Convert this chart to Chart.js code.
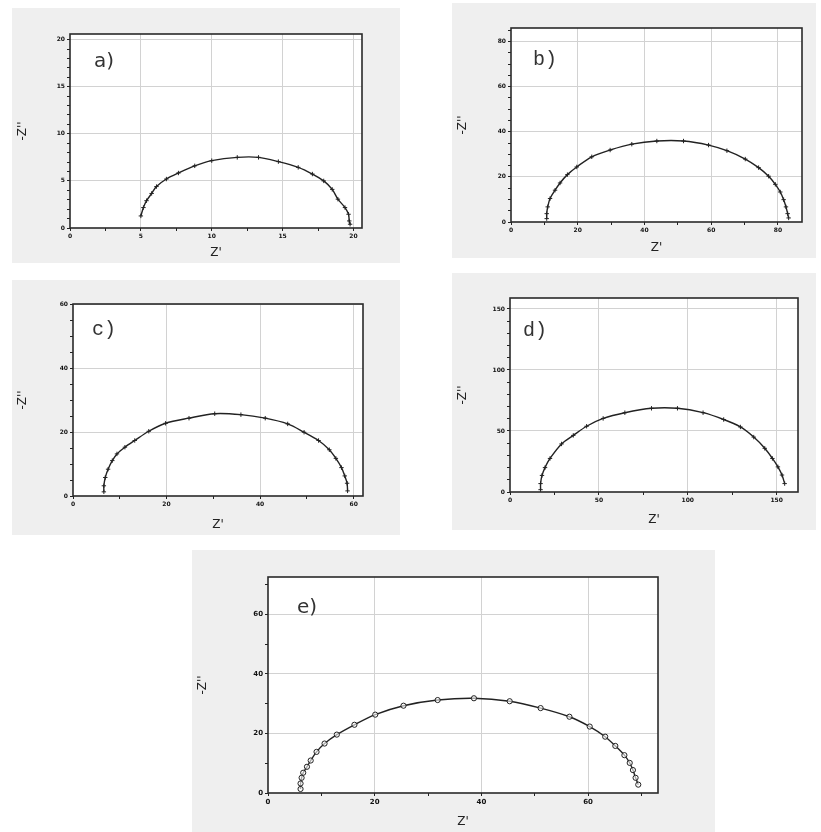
<!DOCTYPE html>
<html><head><meta charset="utf-8">
<script src="https://cdn.jsdelivr.net/npm/chart.js@4.4.0/dist/chart.umd.min.js"></script>
<style>
html,body{margin:0;padding:0;background:#fff;}
#wrap{position:relative;width:821px;height:832px;overflow:hidden;background:#fff;}
.box{position:absolute;background:#efefef;}
canvas{display:block;}
</style></head><body><div id="wrap"></div>
<script>
// ---- data ----
const panelLabels = ['a)', 'b)', 'c)', 'd)', 'e)'];
const axisTitleX = "Z'";
const axisTitleY = "-Z''";

const zReA = [5.0, 5.18, 5.4, 5.76, 6.1, 6.8, 7.65, 8.8, 10.0, 11.8, 13.3, 14.7, 16.1, 17.1, 17.9, 18.5, 18.9, 19.4, 19.65, 19.7, 19.76];
const zImA = [1.28, 2.17, 2.9, 3.67, 4.4, 5.2, 5.84, 6.6, 7.15, 7.5, 7.5, 7.05, 6.44, 5.73, 5.0, 4.1, 3.06, 2.17, 1.46, 0.75, 0.4];

const zReB = [10.7, 10.7, 11.0, 11.7, 13.2, 14.7, 16.9, 19.7, 24.2, 29.7, 36.2, 43.7, 51.7, 59.2, 64.7, 70.2, 74.2, 77.2, 79.2, 80.7, 81.7, 82.4, 82.9, 83.2];
const zImB = [1.5, 3.7, 6.7, 10.4, 14.1, 17.3, 21.0, 24.4, 28.9, 31.9, 34.5, 35.9, 35.9, 34.1, 31.6, 27.9, 24.1, 20.3, 16.7, 13.3, 9.9, 6.7, 3.7, 1.8];

const zReC = [6.6, 6.6, 6.9, 7.5, 8.4, 9.4, 11.1, 13.2, 16.2, 19.8, 24.8, 30.3, 35.9, 41.1, 45.9, 49.4, 52.5, 54.8, 56.2, 57.4, 58.1, 58.6, 58.7];
const zImC = [1.3, 3.2, 5.8, 8.4, 11.1, 13.2, 15.3, 17.4, 20.3, 22.8, 24.4, 25.8, 25.5, 24.4, 22.6, 20.0, 17.4, 14.5, 11.8, 8.9, 6.3, 4.0, 1.6];

const zReD = [17.2, 17.2, 18.0, 19.7, 22.5, 29.0, 35.6, 43.1, 52.4, 64.6, 79.6, 94.2, 108.6, 120.2, 129.6, 137.1, 143.3, 147.6, 150.7, 153.0, 154.5];
const zImD = [1.9, 6.9, 13.6, 20.0, 27.5, 39.4, 46.4, 53.9, 60.3, 65.0, 68.6, 68.6, 65.0, 59.4, 53.3, 45.0, 35.8, 27.5, 20.6, 13.9, 6.9];

const zReE = [6.1, 6.1, 6.3, 6.6, 7.3, 8.0, 9.1, 10.6, 12.9, 16.2, 20.1, 25.4, 31.8, 38.6, 45.3, 51.1, 56.5, 60.3, 63.2, 65.1, 66.8, 67.8, 68.4, 68.9, 69.4];
const zImE = [1.35, 3.2, 5.1, 6.8, 8.8, 10.9, 13.8, 16.6, 19.6, 22.9, 26.3, 29.3, 31.2, 31.8, 30.8, 28.5, 25.6, 22.3, 18.9, 15.8, 12.7, 10.1, 7.7, 5.1, 2.8];

const xTicksA = [0, 5, 10, 15, 20];   const yTicksA = [0, 5, 10, 15, 20];
const xTicksB = [0, 20, 40, 60, 80];  const yTicksB = [0, 20, 40, 60, 80];
const xTicksC = [0, 20, 40, 60];      const yTicksC = [0, 20, 40, 60];
const xTicksD = [0, 50, 100, 150];    const yTicksD = [0, 50, 100, 150];
const xTicksE = [0, 20, 40, 60];      const yTicksE = [0, 20, 40, 60];

// ---- layout / style (not data) ----
const panels = [
  { re: zReA, im: zImA, xt: xTicksA, yt: yTicksA, xMax: 20.6, yMax: 20.6, xMinor: 2.5, yMinor: 1,
    box: [12, 8, 400, 263], plot: [70, 34, 362, 228], labelFont: 'DejaVu Sans', lx: 24, ly: 28, marker: 'cross', tickSize: 6 },
  { re: zReB, im: zImB, xt: xTicksB, yt: yTicksB, xMax: 87.2, yMax: 86, xMinor: 10, yMinor: 5,
    box: [452, 3, 816, 258], plot: [511, 28, 802, 222], labelFont: 'Liberation Mono', lx: 22, ly: 32, marker: 'cross', tickSize: 6 },
  { re: zReC, im: zImC, xt: xTicksC, yt: yTicksC, xMax: 62, yMax: 60.2, xMinor: 10, yMinor: 5,
    box: [12, 280, 400, 535], plot: [73, 304, 363, 496], labelFont: 'Liberation Mono', lx: 19, ly: 26, marker: 'cross', tickSize: 6 },
  { re: zReD, im: zImD, xt: xTicksD, yt: yTicksD, xMax: 162, yMax: 159, xMinor: 25, yMinor: 10,
    box: [452, 273, 816, 530], plot: [510, 298, 798, 492], labelFont: 'Liberation Mono', lx: 13, ly: 33, marker: 'cross', tickSize: 6 },
  { re: zReE, im: zImE, xt: xTicksE, yt: yTicksE, xMax: 73.1, yMax: 72.5, xMinor: 10, yMinor: 10,
    box: [192, 550, 715, 832], plot: [268, 577, 658, 793], labelFont: 'DejaVu Sans', lx: 29, ly: 31, marker: 'circle', tickSize: 7 }
];

const framePlugin = {
  id: 'frame',
  beforeDraw(chart) {
    const a = chart.chartArea, c = chart.ctx;
    c.save(); c.fillStyle = '#ffffff';
    c.fillRect(a.left, a.top, a.right - a.left, a.bottom - a.top);
    c.restore();
  },
  afterDraw(chart, args, opts) {
    const a = chart.chartArea, c = chart.ctx;
    c.save();
    c.strokeStyle = '#2a2a2a'; c.lineWidth = 1.6;
    c.strokeRect(a.left, a.top, a.right - a.left, a.bottom - a.top);
    c.fillStyle = '#333';
    c.font = '20px "' + opts.font + '"';
    c.textBaseline = 'middle';
    c.fillText(opts.label, a.left + opts.lx, a.top + opts.ly);
    c.restore();
  }
};

function isMajor(v, list) {
  return list.some(t => Math.abs(t - v) < 1e-6);
}

const wrap = document.getElementById('wrap');
panels.forEach((p, i) => {
  const [bx0, by0, bx1, by1] = p.box;
  const [px0, py0, px1, py1] = p.plot;
  const div = document.createElement('div');
  div.className = 'box';
  div.style.left = bx0 + 'px'; div.style.top = by0 + 'px';
  div.style.width = (bx1 - bx0) + 'px'; div.style.height = (by1 - by0) + 'px';
  const cv = document.createElement('canvas');
  cv.width = bx1 - bx0; cv.height = by1 - by0;
  div.appendChild(cv); wrap.appendChild(div);

  const pts = p.re.map((x, k) => ({ x: x, y: p.im[k] }));
  const tickFont = { size: p.tickSize, weight: 'bold', family: 'DejaVu Sans' };
  const titleFont = { size: 12, family: 'DejaVu Sans' };

  new Chart(cv, {
    type: 'scatter',
    data: { datasets: [{
      data: pts, showLine: true, tension: 0.3,
      borderColor: '#222', borderWidth: 1.4,
      pointStyle: p.marker, pointRadius: p.marker === 'circle' ? 2.6 : 2.2,
      pointBorderColor: '#222', pointBorderWidth: 1,
      pointBackgroundColor: p.marker === 'circle' ? 'rgba(255,255,255,0.6)' : '#222'
    }]},
    plugins: [framePlugin],
    options: {
      responsive: false, animation: false, devicePixelRatio: 1,
      layout: { padding: { left: 0, bottom: 0, top: py0 - by0, right: bx1 - px1 } },
      plugins: {
        legend: { display: false }, tooltip: { enabled: false },
        frame: { label: panelLabels[i], font: p.labelFont, lx: p.lx, ly: p.ly }
      },
      scales: {
        x: {
          type: 'linear', min: 0, max: p.xMax,
          afterFit: s => { s.height = by1 - py1; },
          border: { display: false },
          grid: {
            color: ctx => (ctx.tick && isMajor(ctx.tick.value, p.xt) && ctx.tick.value > 0) ? '#d2d2d2' : 'rgba(0,0,0,0)',
            tickColor: '#222', tickLength: 3, drawTicks: true, lineWidth: 1
          },
          ticks: {
            stepSize: p.xMinor, autoSkip: false, includeBounds: false, maxRotation: 0,
            color: '#111', font: tickFont, padding: 2,
            callback: v => isMajor(v, p.xt) ? String(v) : ''
          },
          title: { display: true, text: axisTitleX, color: '#222', font: titleFont, padding: { top: 0, bottom: 3 } }
        },
        y: {
          type: 'linear', min: 0, max: p.yMax,
          afterFit: s => { s.width = px0 - bx0; },
          border: { display: false },
          grid: {
            color: ctx => (ctx.tick && isMajor(ctx.tick.value, p.yt) && ctx.tick.value > 0) ? '#d2d2d2' : 'rgba(0,0,0,0)',
            tickColor: '#222', tickLength: 3, drawTicks: true, lineWidth: 1
          },
          ticks: {
            stepSize: p.yMinor, autoSkip: false, includeBounds: false,
            color: '#111', font: tickFont, padding: 2,
            callback: v => isMajor(v, p.yt) ? String(v) : ''
          },
          title: { display: true, text: axisTitleY, color: '#222', font: titleFont, padding: { top: 4, bottom: 0 } }
        }
      }
    }
  });
});
</script></body></html>
